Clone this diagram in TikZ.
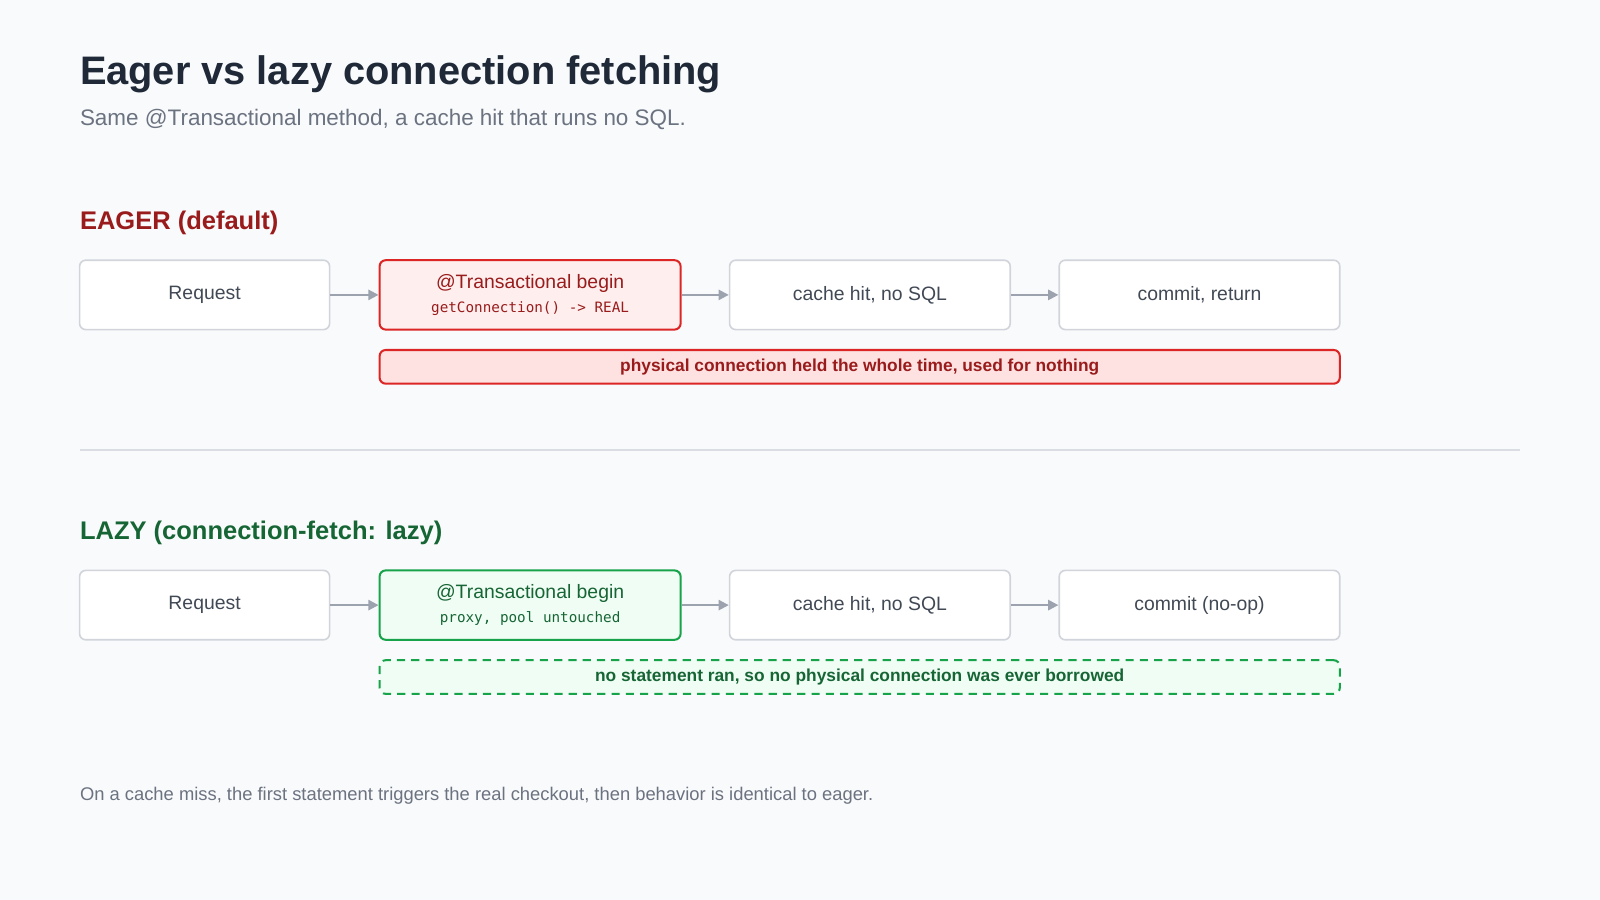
\documentclass[tikz,border=0pt]{standalone}
\usepackage{fontspec}
\setmainfont{Liberation Sans}
\setmonofont{DejaVu Sans Mono}
\usetikzlibrary{arrows.meta}
\newcommand{\monosub}{\ttfamily\fontsize{7}{8}\selectfont}
\definecolor{bg}{HTML}{F9FAFB}
\definecolor{ink}{HTML}{1F2937}
\definecolor{muted}{HTML}{6B7280}
\definecolor{boxline}{HTML}{D1D5DB}
\definecolor{redd}{HTML}{991B1B}
\definecolor{redl}{HTML}{DC2626}
\definecolor{redf}{HTML}{FEE2E2}
\definecolor{grnd}{HTML}{166534}
\definecolor{grnl}{HTML}{16A34A}
\definecolor{grnf}{HTML}{F0FDF4}
\definecolor{arr}{HTML}{9CA3AF}
\begin{document}
\begin{tikzpicture}[x=0.5pt,y=-0.5pt,
  box/.style={draw=boxline,line width=0.8pt,fill=white,rounded corners=3pt,inner sep=0pt,minimum height=34pt,font=\fontsize{9.5}{11}\selectfont,text=ink!85},
  rbox/.style={box,draw=redl,fill=redf!60,line width=1pt,text=redd},
  gbox/.style={box,draw=grnl,fill=grnf,line width=1pt,text=grnd},
  bar/.style={line width=1pt,rounded corners=3pt,minimum width=470.5pt,minimum height=16.5pt,inner sep=0pt,font=\bfseries\fontsize{8.5}{10}\selectfont},
  txt/.style={anchor=base west,inner sep=0pt},
  flow/.style={draw=arr,line width=1pt,-{Triangle[length=5pt,width=5pt]}}]
\fill[bg] (0,0) rectangle (1568,882);
\useasboundingbox (0,0) rectangle (1568,882);
\node[txt,text=ink,font=\bfseries\fontsize{19.5}{24}\selectfont] (title) at (78,83) {Eager vs lazy connection fetching};
\node[txt,text=muted,font=\fontsize{11}{13}\selectfont] (subt) at (78,123) {Same @Transactional method, a cache hit that runs no SQL.};
\node[txt,text=redd,font=\bfseries\fontsize{12.5}{15}\selectfont] (eh) at (78,225) {EAGER (default)};
% row 1
\node[box,minimum width=122.5pt] (r1) at (200.5,289) {Request};
\node[rbox,minimum width=147.5pt,align=center] (t1) at (519.5,289) {@Transactional begin\\[1pt]{\monosub getConnection() -> REAL}};
\node[box,minimum width=137.5pt] (c1) at (852.5,289) {cache hit, no SQL};
\node[box,minimum width=137.5pt] (m1) at (1175.5,289) {commit, return};
\draw[flow] (r1) -- (t1);
\draw[flow] (t1) -- (c1);
\draw[flow] (c1) -- (m1);
\node[bar,draw=redl,fill=redf,text=redd] (rb) at (842.5,359.5) {physical connection held the whole time, used for nothing};
\draw[boxline!80,line width=0.7pt] (78,441) -- (1490,441);
\node[txt,text=grnd,font=\bfseries\fontsize{12.5}{15}\selectfont] (lh) at (78,529) {LAZY (connection-fetch: lazy)};
% row 2
\node[box,minimum width=122.5pt] (r2) at (200.5,593) {Request};
\node[gbox,minimum width=147.5pt,align=center] (t2) at (519.5,593) {@Transactional begin\\[1pt]{\monosub proxy, pool untouched}};
\node[box,minimum width=137.5pt] (c2) at (852.5,593) {cache hit, no SQL};
\node[box,minimum width=137.5pt] (m2) at (1175.5,593) {commit (no-op)};
\draw[flow] (r2) -- (t2);
\draw[flow] (t2) -- (c2);
\draw[flow] (c2) -- (m2);
\node[bar,draw=grnl,dash pattern=on 4pt off 3pt,fill=grnf,text=grnd] (gb) at (842.5,663.5) {no statement ran, so no physical connection was ever borrowed};
\node[txt,text=muted,font=\fontsize{9}{11}\selectfont] (foot) at (78,784) {On a cache miss, the first statement triggers the real checkout, then behavior is identical to eager.};
\end{tikzpicture}
\end{document}
